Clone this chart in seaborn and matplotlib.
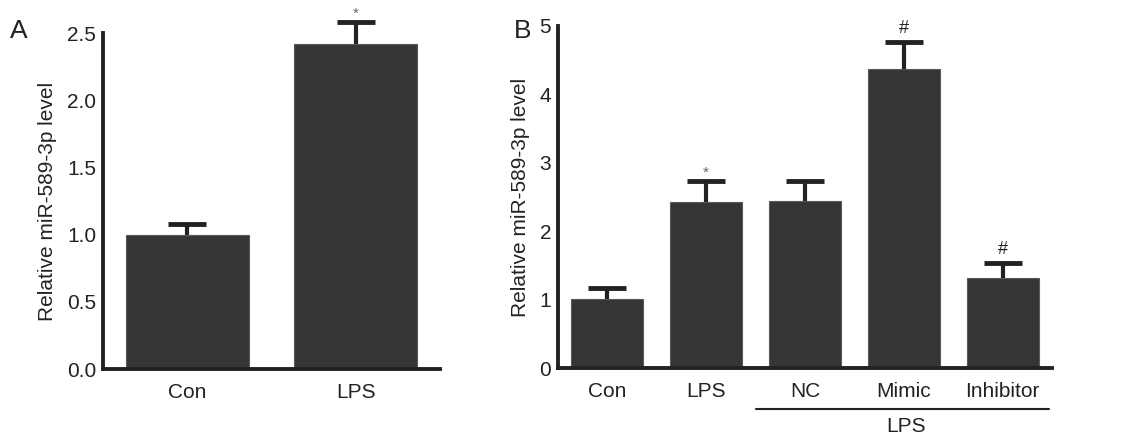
import numpy as np
import pandas as pd
import matplotlib.pyplot as plt
import matplotlib.transforms as mtransforms
from matplotlib.ticker import MultipleLocator, FixedLocator
import seaborn as sns

# panel A data
groups_a = ['Con', 'LPS']
means_a = [1.00, 2.42]
errs_a = [0.08, 0.16]
marks_a = ['', '*']

# panel B data
groups_b = ['Con', 'LPS', 'NC', 'Mimic', 'Inhibitor']
means_b = [1.01, 2.43, 2.44, 4.37, 1.31]
errs_b = [0.16, 0.30, 0.30, 0.39, 0.22]
marks_b = ['', '*', '', '#', '#']

sns.set_style('white')
plt.rcParams['font.family'] = ['Liberation Sans', 'DejaVu Sans']

bar_col = '#353535'
line_col = '#222222'

fig = plt.figure(figsize=(11.32, 4.42), dpi=100)
ax_a = fig.add_axes([0.091, 0.165, 0.2977, 0.760])
ax_b = fig.add_axes([0.4929, 0.1674, 0.4364, 0.7738])


def draw_panel(ax, groups, means, errs, marks, ymax, ystep, fmt):
    df = pd.DataFrame({'group': groups, 'value': means})
    sns.barplot(data=df, x='group', y='value', color=bar_col, width=0.73,
                edgecolor='#5a5a5a', linewidth=0.8, saturation=1, ax=ax,
                zorder=2)
    xs = [p.get_x() + p.get_width() / 2 for p in ax.patches]
    cont = ax.errorbar(xs, means, yerr=[np.zeros(len(means)), errs],
                       fmt='none', ecolor=line_col, elinewidth=3,
                       capsize=13.5, capthick=3.5, zorder=1)
    # only the upper caps are shown, and they may rise above the axis
    cont[1][0].set_visible(False)
    for art in list(cont[1]) + list(cont[2]):
        art.set_clip_on(False)
    for x, m, e, s in zip(xs, means, errs, marks):
        if s:
            fs = 11 if s == '*' else 13
            col = '#666666' if s == '*' else '#222222'
            off = 6 if s == '*' else 10
            ax.annotate(s, (x, m + e), xytext=(0, off),
                        textcoords='offset points', ha='center',
                        va='center', fontsize=fs, color=col,
                        annotation_clip=False)
    ax.set_xlim(-0.5, len(groups) - 0.5)
    ax.set_ylim(0, ymax)
    ax.yaxis.set_major_locator(MultipleLocator(ystep))
    ax.yaxis.set_major_formatter(plt.FormatStrFormatter(fmt))
    ax.xaxis.set_minor_locator(FixedLocator(np.arange(0.5, len(groups), 1)))
    for side in ['top', 'right']:
        ax.spines[side].set_visible(False)
    for side in ['left', 'bottom']:
        ax.spines[side].set_linewidth(2.8)
        ax.spines[side].set_color(line_col)
        ax.spines[side].set_zorder(3)
    ax.tick_params(axis='y', direction='in', length=8, width=2.8,
                   color=line_col, labelsize=15, pad=5, labelcolor='#222222')
    ax.tick_params(axis='x', which='major', length=0, labelsize=15, pad=10,
                   labelcolor='#222222')
    ax.tick_params(axis='x', which='minor', direction='in', length=6,
                   width=2.2, color=line_col)
    ax.set_xlabel('')
    ax.set_ylabel('Relative miR-589-3p level', fontsize=15, color='#222222',
                  labelpad=7)


draw_panel(ax_a, groups_a, means_a, errs_a, marks_a, 2.5, 0.5, '%.1f')
draw_panel(ax_b, groups_b, means_b, errs_b, marks_b, 5, 1, '%d')

# group bracket under LPS-treated bars
trans = mtransforms.blended_transform_factory(ax_b.transData, ax_b.transAxes)
ax_b.plot([1.5, 4.47], [-0.12, -0.12], color=line_col, lw=1.5,
          transform=trans, clip_on=False)
ax_b.text(3.02, -0.17, 'LPS', transform=trans, ha='center', va='center',
          fontsize=15, color='#222222')

fig.text(0.017, 0.93, 'A', fontsize=19, ha='center', va='center',
         color='#222222')
fig.text(0.462, 0.93, 'B', fontsize=19, ha='center', va='center',
         color='#222222')

fig.savefig('out.png', dpi=100)
